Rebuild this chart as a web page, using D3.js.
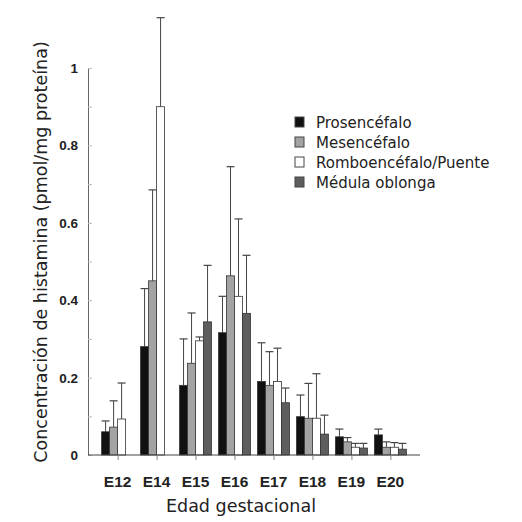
<!DOCTYPE html>
<html>
<head>
<meta charset="utf-8">
<script src="https://cdn.jsdelivr.net/npm/d3@7"></script>
<style>
  body { margin: 0; background: #fff; }
  text { font-family: "DejaVu Sans", sans-serif; fill: #222; }
  .tick-label { font-family: "Liberation Sans", Arial, sans-serif; font-weight: bold; }
</style>
</head>
<body>
<div id="chart"></div>
<script>
// datos
var categories = ["E12", "E14", "E15", "E16", "E17", "E18", "E19", "E20"];
var seriesNames = ["Prosencéfalo", "Mesencéfalo", "Romboencéfalo/Puente", "Médula oblonga"];
var prosencefalo = [0.06, 0.28, 0.18, 0.316, 0.19, 0.099, 0.047, 0.052];
var prosencefaloErr = [0.028, 0.15, 0.12, 0.094, 0.10, 0.056, 0.02, 0.015];
var mesencefalo = [0.072, 0.45, 0.237, 0.463, 0.18, 0.095, 0.034, 0.02];
var mesencefaloErr = [0.068, 0.235, 0.13, 0.282, 0.087, 0.09, 0.011, 0.014];
var romboencefalo = [0.093, 0.90, 0.295, 0.41, 0.19, 0.095, 0.02, 0.02];
var romboencefaloErr = [0.093, 0.23, 0.01, 0.20, 0.086, 0.115, 0.01, 0.012];
var medula = [null, null, 0.344, 0.366, 0.135, 0.054, 0.018, 0.015];
var medulaErr = [null, null, 0.146, 0.15, 0.038, 0.049, 0.012, 0.015];
var yTicks = [0, 0.2, 0.4, 0.6, 0.8, 1];

var values = [prosencefalo, mesencefalo, romboencefalo, medula];
var errors = [prosencefaloErr, mesencefaloErr, romboencefaloErr, medulaErr];
var fills = ["#111", "#a3a3a3", "#fff", "#5e5e5e"];

var width = 522, height = 522;
var svg = d3.select("#chart").append("svg")
  .attr("width", width)
  .attr("height", height);

var x = d3.scalePoint().domain(categories).range([88, 420]).padding(0.76);
var y = d3.scaleLinear().domain([0, 1]).range([455, 68]);
var barW = 8;

// datos aplanados
var bars = [];
categories.forEach(function(c, i) {
  values.forEach(function(s, j) {
    if (s[i] != null) bars.push({ cat: c, s: j, v: s[i], e: errors[j][i] });
  });
});

function cx(d) { return x(d.cat) - 2 * barW + d.s * barW + barW / 2; }

// error bars primero
var eb = svg.append("g").selectAll("g").data(bars).enter().append("g");
eb.append("line")
  .attr("x1", cx).attr("x2", cx)
  .attr("y1", function(d) { return y(d.v); })
  .attr("y2", function(d) { return y(d.v + d.e); })
  .attr("stroke", "#444").attr("stroke-width", 1);
eb.append("line")
  .attr("x1", function(d) { return cx(d) - 4; })
  .attr("x2", function(d) { return cx(d) + 4; })
  .attr("y1", function(d) { return y(d.v + d.e); })
  .attr("y2", function(d) { return y(d.v + d.e); })
  .attr("stroke", "#444").attr("stroke-width", 1.2);

svg.append("g").selectAll("rect").data(bars).enter().append("rect")
  .attr("x", function(d) { return x(d.cat) - 2 * barW + d.s * barW; })
  .attr("y", function(d) { return y(d.v); })
  .attr("width", barW)
  .attr("height", function(d) { return y(0) - y(d.v); })
  .attr("fill", function(d) { return fills[d.s]; })
  .attr("stroke", "#333").attr("stroke-width", 0.8);

// ejes
var yAxis = svg.append("g").attr("transform", "translate(88,0)")
  .call(d3.axisRight(y).tickValues(d3.range(0, 1.01, 0.1)).tickSize(4).tickFormat(""));
yAxis.select(".domain").attr("stroke", "#666");
yAxis.selectAll(".tick line").attr("stroke", "#bbb");

svg.selectAll(".ylab").data(yTicks).enter().append("text")
  .attr("class", "tick-label")
  .attr("x", 78).attr("y", function(d) { return y(d) + 5; })
  .attr("text-anchor", "end").attr("font-size", 13.5)
  .text(function(d) { return d; });

var xAxis = svg.append("g").attr("transform", "translate(0,455)")
  .call(d3.axisBottom(x).tickSize(5).tickSizeOuter(0).tickFormat(""));
xAxis.select(".domain").attr("stroke", "#444").attr("d", "M88,0H420");
xAxis.selectAll(".tick line").attr("stroke", "#888");

svg.selectAll(".xlab").data(categories).enter().append("text")
  .attr("class", "tick-label")
  .attr("x", function(d) { return x(d); }).attr("y", 487)
  .attr("text-anchor", "middle").attr("font-size", 15.5)
  .text(function(d) { return d; });

svg.append("text")
  .attr("x", 241).attr("y", 512)
  .attr("text-anchor", "middle").attr("font-size", 17.5)
  .text("Edad gestacional");

svg.append("text")
  .attr("transform", "translate(47,252) rotate(-90)")
  .attr("text-anchor", "middle").attr("font-size", 17.5)
  .text("Concentración de histamina (pmol/mg proteína)");

// leyenda
var legend = svg.append("g").selectAll("g").data(seriesNames).enter().append("g")
  .attr("transform", function(d, i) { return "translate(295," + (117 + i * 20) + ")"; });
legend.append("rect")
  .attr("width", 9).attr("height", 10)
  .attr("fill", function(d, i) { return fills[i]; })
  .attr("stroke", "#444").attr("stroke-width", 1);
legend.append("text")
  .attr("x", 21).attr("y", 11).attr("font-size", 15)
  .text(function(d) { return d; });
</script>
</body>
</html>
